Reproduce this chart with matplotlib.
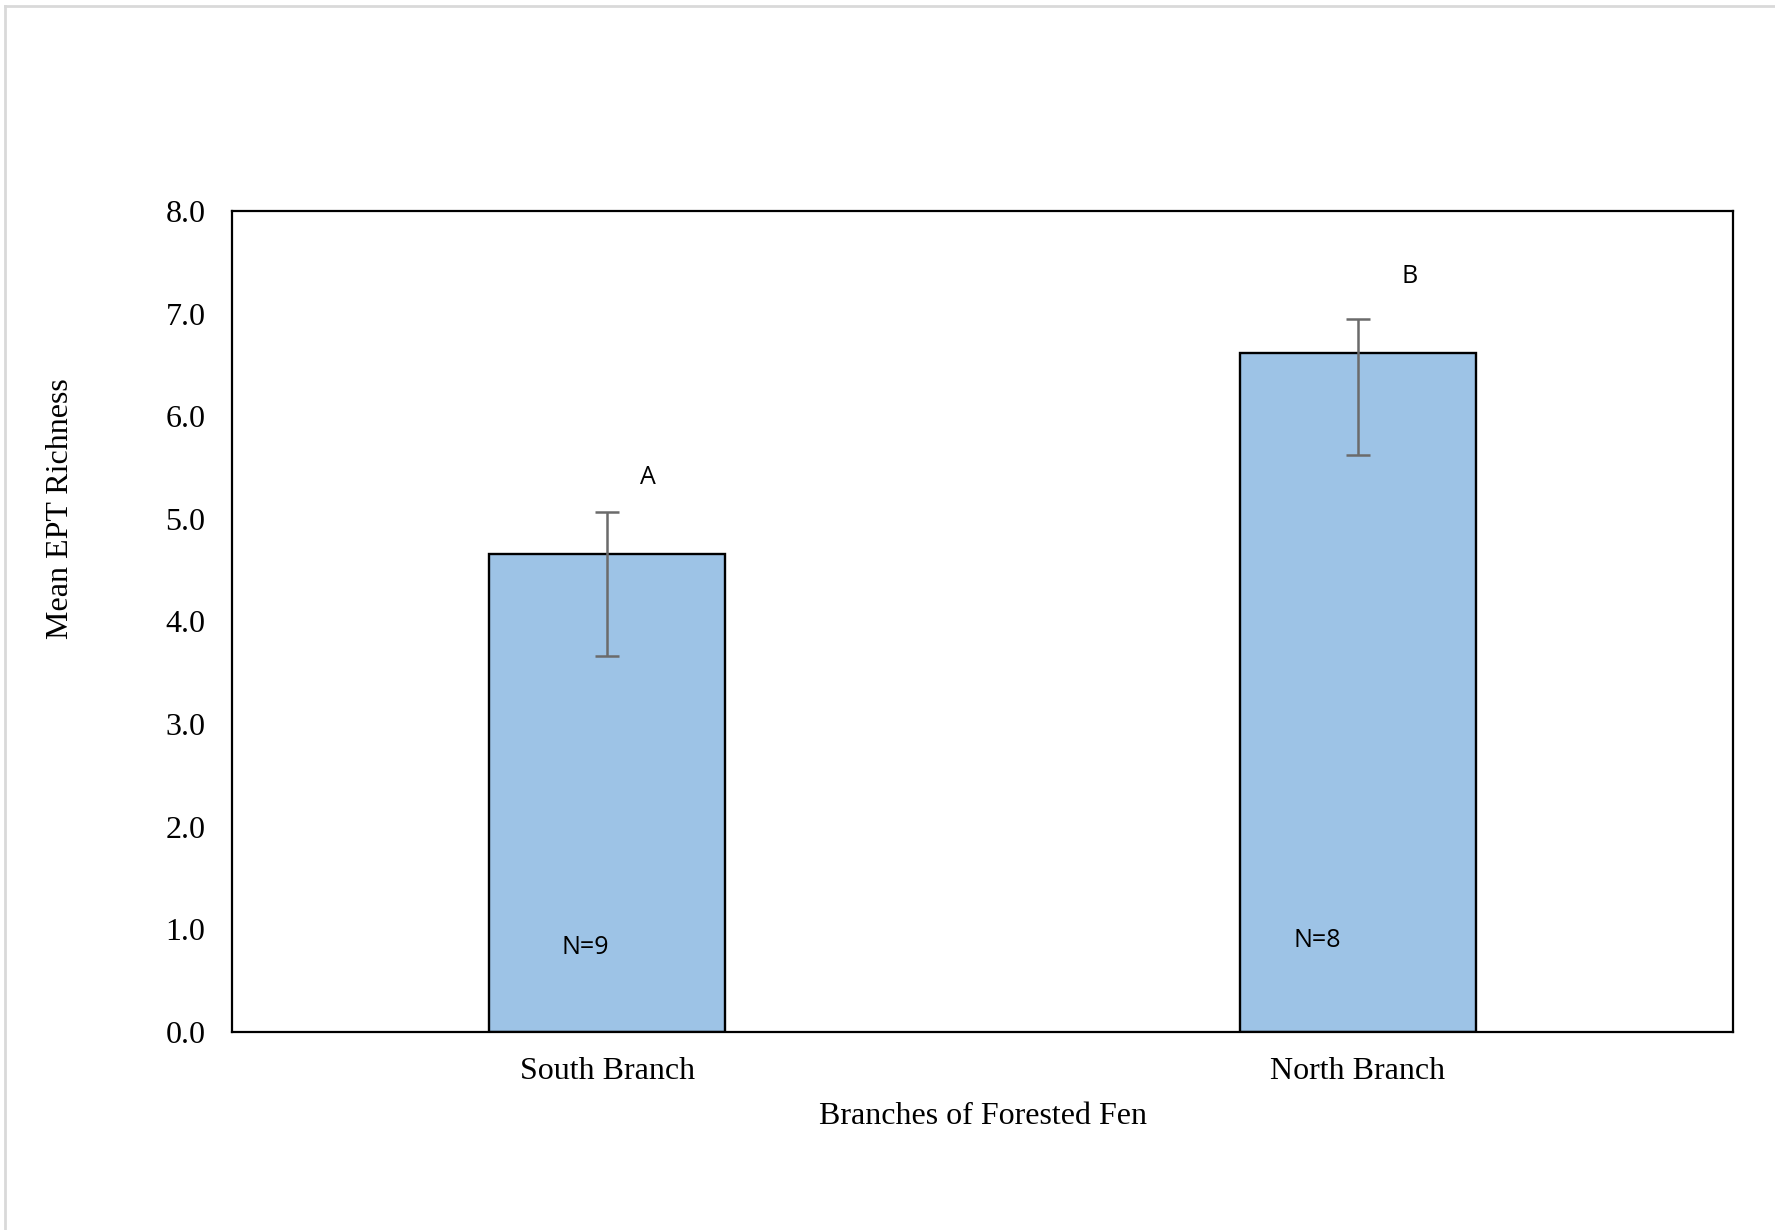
import matplotlib
matplotlib.use("Agg")
import matplotlib.pyplot as plt
from matplotlib.lines import Line2D

categories = ["South Branch", "North Branch"]
means = [4.66, 6.62]
err_upper = [5.07, 6.95]
err_lower = [3.66, 5.62]
letters = ["A", "B"]
n_labels = ["N=9", "N=8"]
n_heights = [0.82, 0.89]

W, H = 1775, 1230
fig = plt.figure(figsize=(W / 100, H / 100), dpi=100)
fig.patch.set_facecolor("white")

# outer light border
fig.add_artist(Line2D([5 / W, 5 / W], [0, 1 - 6 / H], transform=fig.transFigure, color="#d9d9d9", lw=2))
fig.add_artist(Line2D([5 / W, 1], [1 - 6 / H, 1 - 6 / H], transform=fig.transFigure, color="#d9d9d9", lw=2))

left, right, top, bottom = 232, 1733, 211, 1032
ax = fig.add_axes([left / W, 1 - bottom / H, (right - left) / W, (bottom - top) / H])

x = list(range(len(categories)))
yerr = [[m - lo for m, lo in zip(means, err_lower)], [hi - m for m, hi in zip(means, err_upper)]]
ax.bar(x, means, width=0.315, color="#9DC3E6", edgecolor="black", linewidth=1.7, zorder=2)
ax.errorbar(x, means, yerr=yerr, fmt="none", ecolor="#6b6b6b", elinewidth=1.8, capsize=8.6, capthick=1.8, zorder=3)

ax.set_xlim(-0.5, 1.5)
ax.set_ylim(0, 8)
ax.set_yticks([0, 1, 2, 3, 4, 5, 6, 7, 8])
ax.set_yticklabels([f"{v:.1f}" for v in range(9)])
ax.set_xticks(x)
ax.set_xticklabels(categories)
for sp in ax.spines.values():
    sp.set_linewidth(1.6)
    sp.set_color("black")
ax.tick_params(axis="both", length=0, labelsize=23)
ax.tick_params(axis="y", pad=19)
ax.tick_params(axis="x", pad=18)
for lab in ax.get_xticklabels() + ax.get_yticklabels():
    lab.set_fontfamily("Liberation Serif")

letter_offsets = [(41, 34), (52, 42)]
for i, t in enumerate(letters):
    ax.annotate(t, xy=(x[i], err_upper[i]), xytext=letter_offsets[i], textcoords="offset pixels",
                ha="center", va="center", fontsize=18, fontfamily="Open Sans")
n_offsets = [-22, -41]
for i, t in enumerate(n_labels):
    ax.annotate(t, xy=(x[i], n_heights[i]), xytext=(n_offsets[i], 0), textcoords="offset pixels",
                ha="center", va="center", fontsize=18, fontfamily="Open Sans")

fig.text(982.5 / W, 1 - 1116 / H, "Branches of Forested Fen", ha="center", va="center",
         fontsize=23, fontfamily="Liberation Serif")
fig.text(61 / W, 1 - 509 / H, "Mean EPT Richness", ha="center", va="center", rotation=90,
         fontsize=23, fontfamily="Liberation Serif")

fig.savefig("out.png", dpi=100, facecolor="white")
